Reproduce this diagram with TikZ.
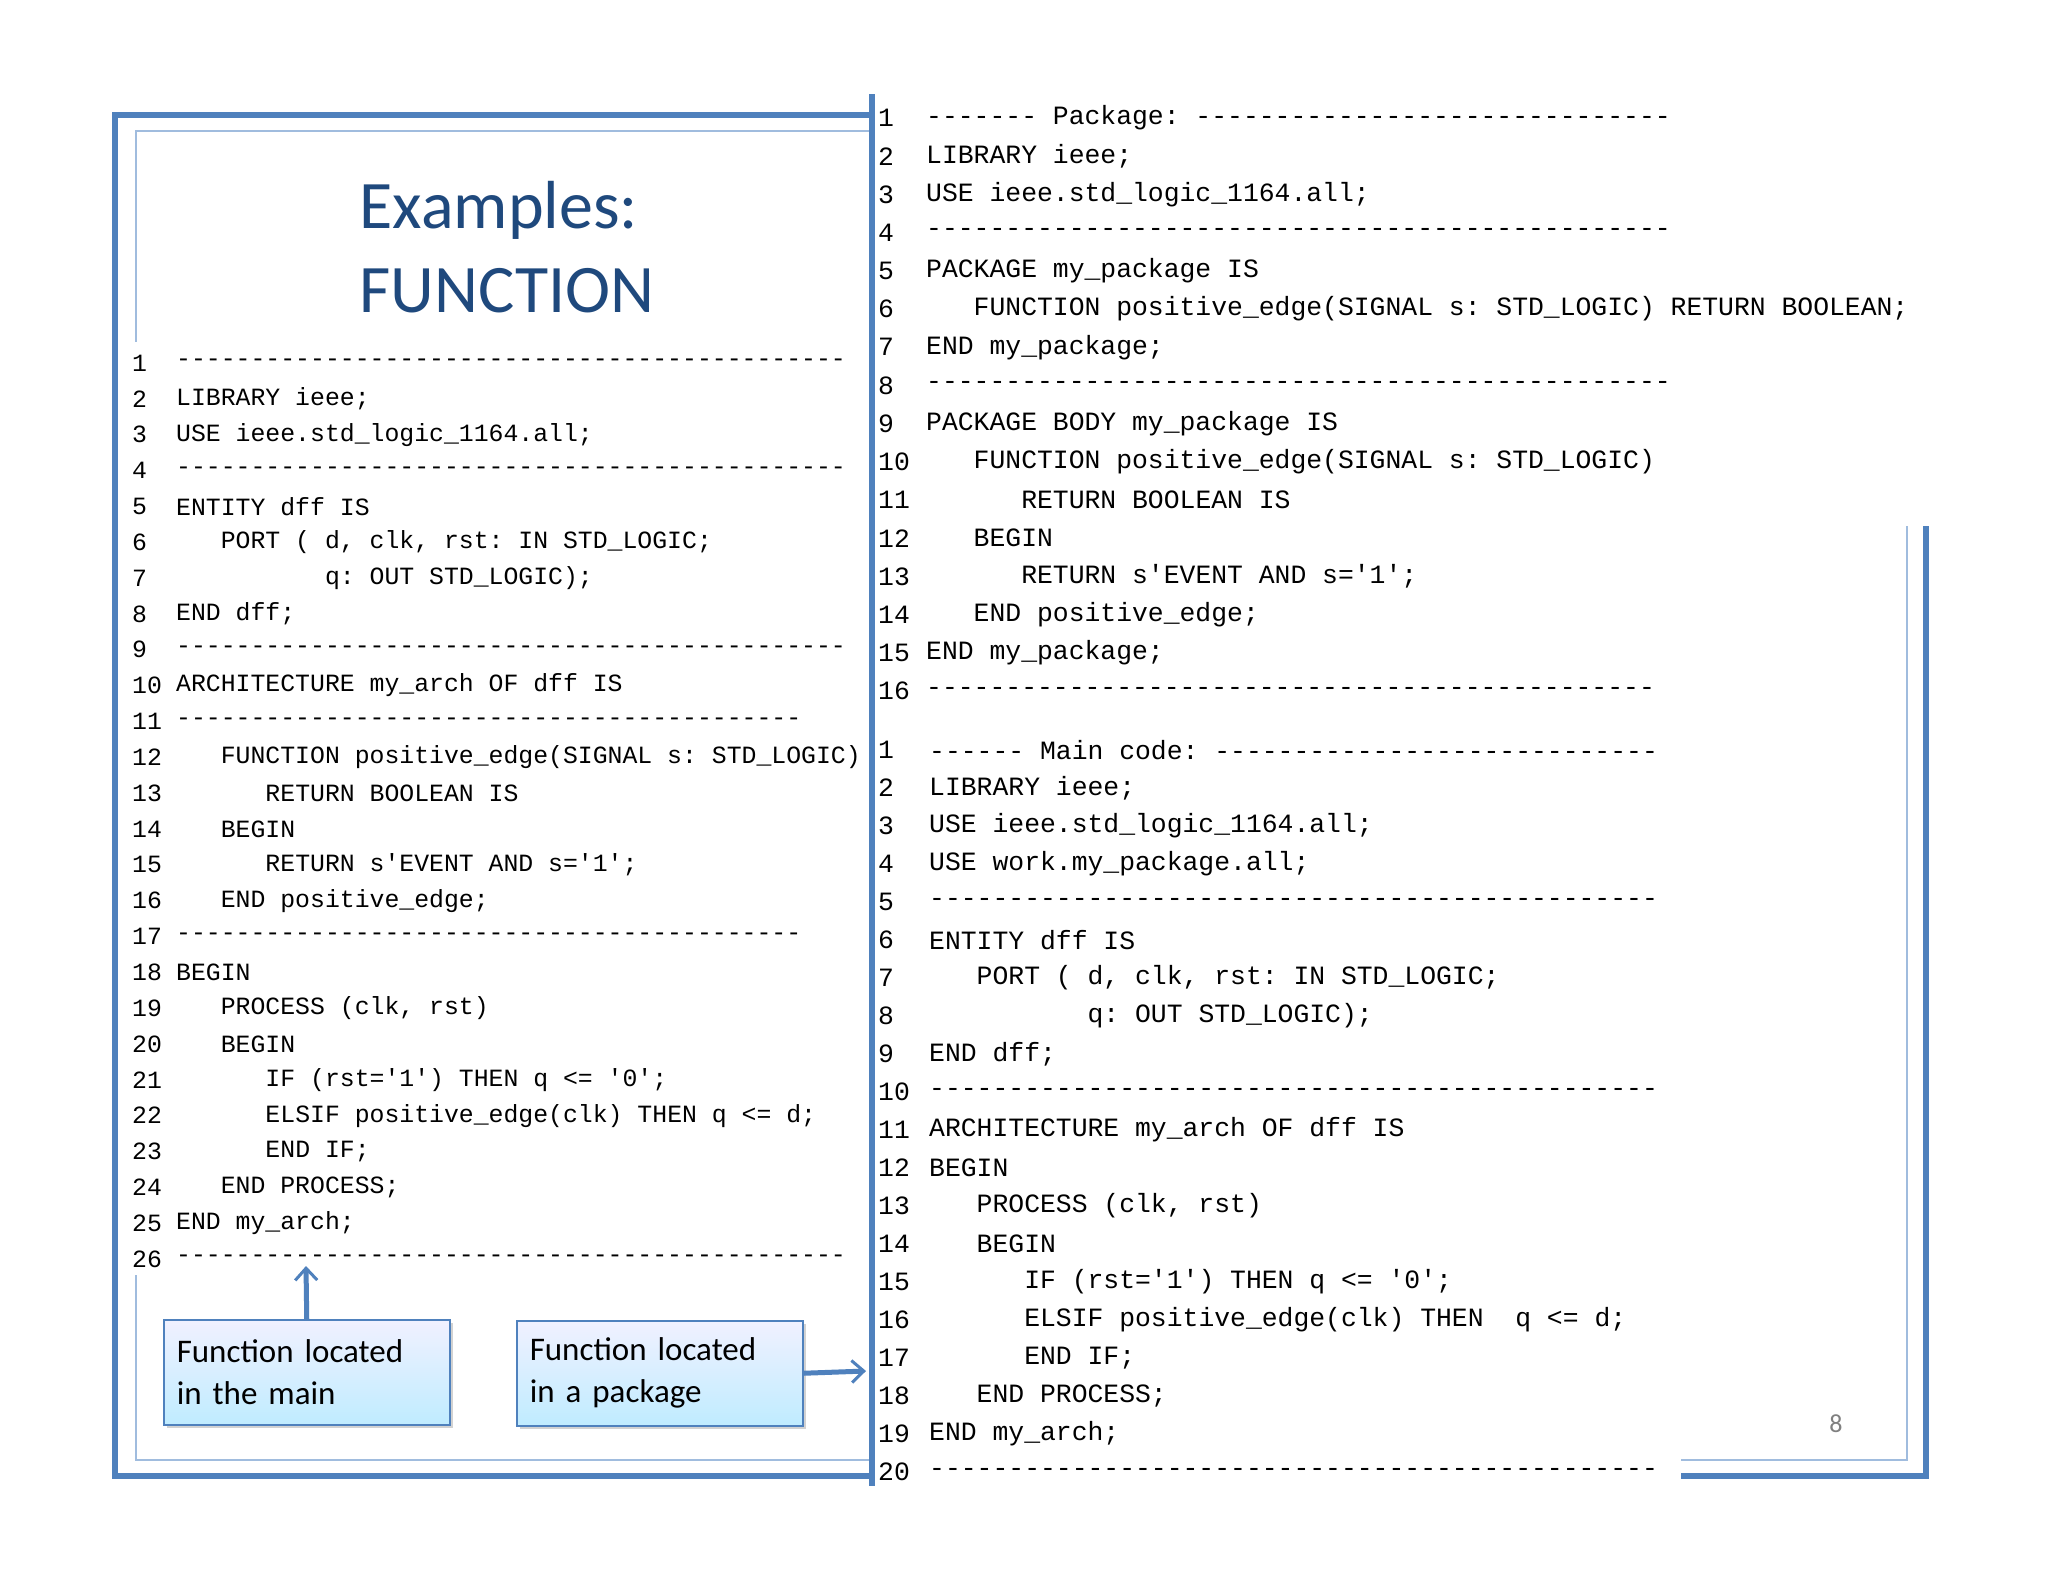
\documentclass[tikz,border=0pt]{standalone}
\usepackage{fontspec}
\setmonofont{Liberation Mono}
\newfontfamily\calfont{Carlito}
\usetikzlibrary{arrows.meta,shadows}
\ExplSyntaxOn
\newcommand\dsh[1]{\prg_replicate:nn{#1}{-}}
\ExplSyntaxOff
\definecolor{frameblue}{RGB}{79,129,189}
\definecolor{thinblue}{RGB}{160,188,222}
\definecolor{titleblue}{RGB}{31,73,125}
\tikzset{
 lc/.style={anchor=west,inner sep=0pt,font=\ttfamily\fontsize{24.8}{28}\selectfont},
 rc/.style={anchor=west,inner sep=0pt,font=\ttfamily\fontsize{26.4}{30}\selectfont},
 callout/.style={draw=frameblue,line width=1.5pt,top color=white!30!blue!8,bottom color=blue!30!cyan!25,drop shadow={opacity=0.35,shadow xshift=3pt,shadow yshift=-3pt},minimum width=286pt,minimum height=105pt,anchor=north west,align=left,text width=260pt,font=\calfont\fontsize{33}{42}\selectfont},
 blarrow/.style={frameblue,line width=5pt,-{Straight Barb[length=12pt,width=22pt,line width=3pt]}}
}
\newcommand\Lft[2]{\node[lc] at (132,{363+(#1-1)*35.84}) {#1}; \node[lc] at (176,{363+(#1-1)*35.84}) {#2};}
\newcommand\Ra[2]{\node[rc] at (878,{118+(#1-1)*38.2}) {#1}; \node[rc] at (926,{118+(#1-1)*38.2}) {#2};}
\newcommand\Rb[2]{\node[rc] at (878,{750+(#1-1)*38.0}) {#1}; \node[rc] at (929,{750+(#1-1)*38.0}) {#2};}
\begin{document}
\begin{tikzpicture}[x=1pt,y=-1pt]
\useasboundingbox (0,0) rectangle (2048,1582);
\fill[white] (0,0) rectangle (2048,1582);
% frames
\draw[thinblue,line width=1.5pt] (136,131) rectangle (870,1460);
\draw[thinblue,line width=1.5pt] (1907,526) -- (1907,1460) -- (1681,1460);
\draw[frameblue,line width=6pt] (872,115) -- (115,115) -- (115,1476) -- (872,1476);
\draw[frameblue,line width=6pt] (1926,526) -- (1926,1476) -- (1681,1476);
% white code backgrounds
\fill[white] (120,342) rectangle (868,1275);
\fill[white] (874,94) rectangle (1932,524);
\fill[white] (874,94) rectangle (1680,1490);
\draw[frameblue,line width=6pt] (872,94) -- (872,1486);
% title
\node[font=\calfont\fontsize{68}{84}\selectfont,text=titleblue,align=left,anchor=north] (title) at (507,178) {Examples:\\FUNCTION};
% left code
\Lft{1}{\dsh{45}}
\Lft{2}{LIBRARY ieee;}
\Lft{3}{USE ieee.std\_logic\_1164.all;}
\Lft{4}{\dsh{45}}
\Lft{5}{ENTITY dff IS}
\Lft{6}{~~~PORT ( d, clk, rst: IN STD\_LOGIC;}
\Lft{7}{~~~~~~~~~~q: OUT STD\_LOGIC);}
\Lft{8}{END dff;}
\Lft{9}{\dsh{45}}
\Lft{10}{ARCHITECTURE my\_arch OF dff IS}
\Lft{11}{\dsh{42}}
\Lft{12}{~~~FUNCTION positive\_edge(SIGNAL s: STD\_LOGIC)}
\Lft{13}{~~~~~~RETURN BOOLEAN IS}
\Lft{14}{~~~BEGIN}
\Lft{15}{~~~~~~RETURN s'EVENT AND s='1';}
\Lft{16}{~~~END positive\_edge;}
\Lft{17}{\dsh{42}}
\Lft{18}{BEGIN}
\Lft{19}{~~~PROCESS (clk, rst)}
\Lft{20}{~~~BEGIN}
\Lft{21}{~~~~~~IF (rst='1') THEN q <= '0';}
\Lft{22}{~~~~~~ELSIF positive\_edge(clk) THEN q <= d;}
\Lft{23}{~~~~~~END IF;}
\Lft{24}{~~~END PROCESS;}
\Lft{25}{END my\_arch;}
\Lft{26}{\dsh{45}}
\coordinate (a1end) at (306,1266);
% right block 1
\Ra{1}{\dsh{7} Package: \dsh{30}}
\Ra{2}{LIBRARY ieee;}
\Ra{3}{USE ieee.std\_logic\_1164.all;}
\Ra{4}{\dsh{47}}
\Ra{5}{PACKAGE my\_package IS}
\Ra{6}{~~~FUNCTION positive\_edge(SIGNAL s: STD\_LOGIC) RETURN BOOLEAN;}
\Ra{7}{END my\_package;}
\Ra{8}{\dsh{47}}
\Ra{9}{PACKAGE BODY my\_package IS}
\Ra{10}{~~~FUNCTION positive\_edge(SIGNAL s: STD\_LOGIC)}
\Ra{11}{~~~~~~RETURN BOOLEAN IS}
\Ra{12}{~~~BEGIN}
\Ra{13}{~~~~~~RETURN s'EVENT AND s='1';}
\Ra{14}{~~~END positive\_edge;}
\Ra{15}{END my\_package;}
\Ra{16}{\dsh{46}}
% right block 2
\Rb{1}{\dsh{6} Main code: \dsh{28}}
\Rb{2}{LIBRARY ieee;}
\Rb{3}{USE ieee.std\_logic\_1164.all;}
\Rb{4}{USE work.my\_package.all;}
\Rb{5}{\dsh{46}}
\Rb{6}{ENTITY dff IS}
\Rb{7}{~~~PORT ( d, clk, rst: IN STD\_LOGIC;}
\Rb{8}{~~~~~~~~~~q: OUT STD\_LOGIC);}
\Rb{9}{END dff;}
\Rb{10}{\dsh{46}}
\Rb{11}{ARCHITECTURE my\_arch OF dff IS}
\Rb{12}{BEGIN}
\Rb{13}{~~~PROCESS (clk, rst)}
\Rb{14}{~~~BEGIN}
\Rb{15}{~~~~~~IF (rst='1') THEN q <= '0';}
\Rb{16}{~~~~~~ELSIF positive\_edge(clk) THEN~~q <= d;}
\Rb{17}{~~~~~~END IF;}
\Rb{18}{~~~END PROCESS;}
\Rb{19}{END my\_arch;}
\Rb{20}{\dsh{46}}
\coordinate (a2end) at (866,1371);
% page number
\node[font=\calfont\fontsize{26}{30}\selectfont,text=gray] (pg) at (1836,1424) {8};
% callouts
\node[callout] (c1) at (163,1319) {Function located\\in the main};
\node[callout] (c2) at (516,1320) {Function located\\in a package};
\draw[blarrow] (c1.north) -- (a1end);
\draw[blarrow] (c2.east) -- (a2end);
\end{tikzpicture}
\end{document}
